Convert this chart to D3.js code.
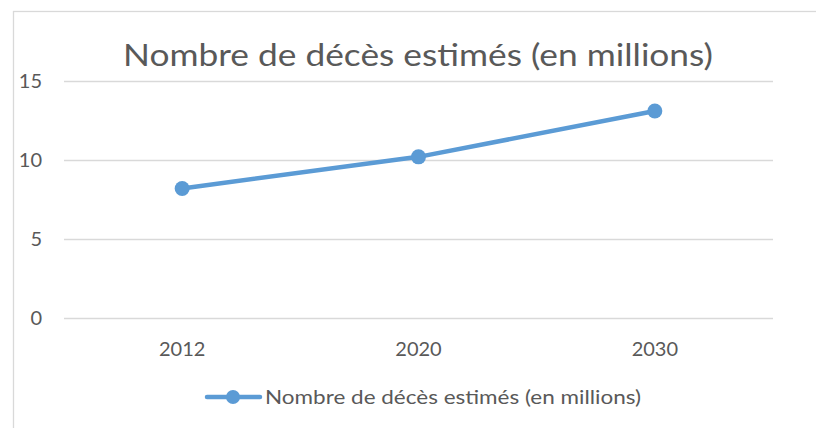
<!DOCTYPE html>
<html><head><meta charset="utf-8">
<script src="https://cdn.jsdelivr.net/npm/d3@7"></script>
<style>body{margin:0;background:#fff}svg{display:block}</style>
</head><body><svg id="c" width="816" height="428"></svg>
<script>
const categories = ["2012", "2020", "2030"];
const values = [8.2, 10.2, 13.1];
const yTicks = [0, 5, 10, 15];
const title = "Nombre de décès estimés (en millions)";
const seriesName = "Nombre de décès estimés (en millions)";

const svg = d3.select("#c");
const font = "Lato, 'Open Sans', sans-serif";
const txt = "#595959", blue = "#5B9BD5", grid = "#d9d9d9";

svg.append("rect").attr("x", 13.5).attr("y", 11.5).attr("width", 830).attr("height", 430)
  .attr("fill", "#fff").attr("stroke", grid).attr("stroke-width", 1.3);

const m = {l: 64, r: 773, t: 81, b: 318};
const x = d3.scaleBand().domain(categories).range([m.l, m.r]);
const y = d3.scaleLinear().domain([0, 15]).range([m.b, m.t]);

svg.append("text").attr("x", 418).attr("y", 66).attr("text-anchor", "middle")
  .attr("font-family", font).attr("font-size", 30).attr("fill", txt)
  .attr("textLength", 590).attr("lengthAdjust", "spacingAndGlyphs").text(title);

const ga = svg.append("g").attr("transform", `translate(${m.l},0)`)
  .call(d3.axisLeft(y).tickValues(yTicks).tickSize(-(m.r - m.l)).tickPadding(22));
ga.select(".domain").remove();
ga.selectAll(".tick line").attr("stroke", grid).attr("stroke-width", 1.3);
ga.selectAll(".tick text").attr("font-family", font).attr("font-size", 20).attr("fill", txt);

const gx = svg.append("g").attr("transform", `translate(0,${m.b})`)
  .call(d3.axisBottom(x).tickSize(0).tickPadding(24));
gx.select(".domain").remove();
gx.selectAll(".tick text").attr("font-family", font).attr("font-size", 20).attr("fill", txt);

const line = d3.line().x((d, i) => x(categories[i]) + x.bandwidth() / 2).y(d => y(d));
svg.append("path").datum(values).attr("d", line).attr("fill", "none")
  .attr("stroke", blue).attr("stroke-width", 4.5).attr("stroke-linecap", "round");
svg.selectAll("circle.pt").data(values).join("circle").attr("class", "pt")
  .attr("cx", (d, i) => x(categories[i]) + x.bandwidth() / 2).attr("cy", d => y(d))
  .attr("r", 7.5).attr("fill", blue);

const lg = svg.append("g");
lg.append("line").attr("x1", 207).attr("x2", 260).attr("y1", 397).attr("y2", 397)
  .attr("stroke", blue).attr("stroke-width", 4.5).attr("stroke-linecap", "round");
lg.append("circle").attr("cx", 233).attr("cy", 397).attr("r", 7).attr("fill", blue);
lg.append("text").attr("x", 265).attr("y", 404).attr("font-family", font).attr("font-size", 19)
  .attr("fill", txt).attr("textLength", 376).attr("lengthAdjust", "spacingAndGlyphs").text(seriesName);
</script></body></html>
